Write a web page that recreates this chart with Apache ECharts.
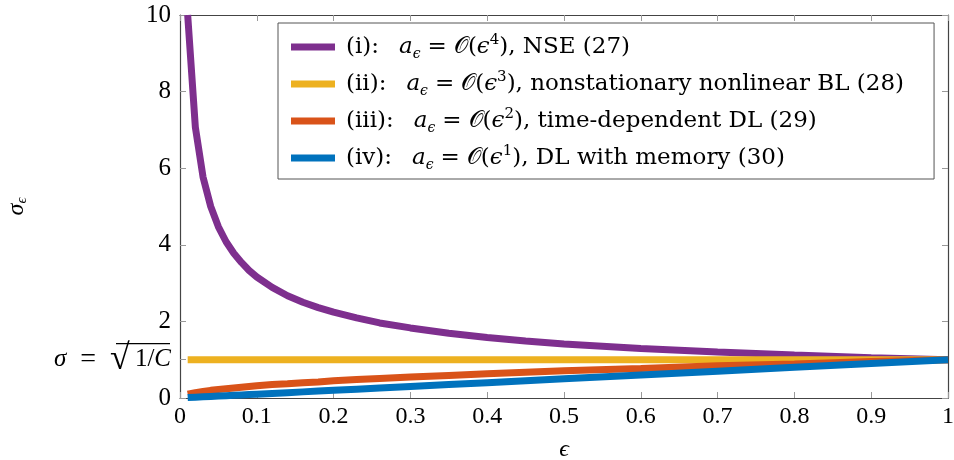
<!DOCTYPE html>
<html lang="en">
<head>
    <meta charset="utf-8">
    <title>sigma eps</title>
    <style>
        html, body { margin: 0; padding: 0; background: #fff; }
        #chart { width: 954px; height: 460px; }
    </style>
</head>
<body>
    <div id="chart"></div>
    <script src="https://cdn.jsdelivr.net/npm/echarts@6/dist/echarts.min.js"></script>
    <script>
        // values
        var eps = [0.01, 0.02, 0.03, 0.04, 0.05, 0.06, 0.07, 0.08, 0.09, 0.1, 0.12, 0.14, 0.16, 0.18, 0.2,
            0.23, 0.26, 0.3, 0.35, 0.4, 0.45, 0.5, 0.6, 0.7, 0.8, 0.9, 1.0];
        var sigmaNSE = [10, 7.07, 5.77, 5.0, 4.47, 4.08, 3.78, 3.54, 3.33, 3.16, 2.89, 2.67, 2.5, 2.36, 2.24,
            2.09, 1.96, 1.83, 1.69, 1.58, 1.49, 1.41, 1.29, 1.2, 1.12, 1.05, 1.0];
        var sigmaBL = [1, 1, 1, 1, 1, 1, 1, 1, 1, 1, 1, 1, 1, 1, 1, 1, 1, 1, 1, 1, 1, 1, 1, 1, 1, 1, 1];
        var sigmaTD = [0.1, 0.14, 0.17, 0.2, 0.22, 0.24, 0.26, 0.28, 0.3, 0.32, 0.35, 0.37, 0.4, 0.42, 0.45,
            0.48, 0.51, 0.55, 0.59, 0.63, 0.67, 0.71, 0.77, 0.84, 0.89, 0.95, 1.0];
        var sigmaMem = [0.01, 0.02, 0.03, 0.04, 0.05, 0.06, 0.07, 0.08, 0.09, 0.1, 0.12, 0.14, 0.16, 0.18, 0.2,
            0.23, 0.26, 0.3, 0.35, 0.4, 0.45, 0.5, 0.6, 0.7, 0.8, 0.9, 1.0];

        var seriesNames = ['i', 'ii', 'iii', 'iv'];
        var seriesColors = ['#7E2F8E', '#EDB120', '#D95319', '#0072BD'];
        var legendText = [
            '{f|(i):}{g|}{m|a}{s|ϵ}{e|=}{c|𝒪}{t|(}{m|ϵ}{p|4}{t|), NSE (27)}',
            '{f|(ii):}{g|}{m|a}{s|ϵ}{e|=}{c|𝒪}{t|(}{m|ϵ}{p|3}{t|), nonstationary nonlinear BL (28)}',
            '{f|(iii):}{g|}{m|a}{s|ϵ}{e|=}{c|𝒪}{t|(}{m|ϵ}{p|2}{t|), time-dependent DL (29)}',
            '{f|(iv):}{g|}{m|a}{s|ϵ}{e|=}{c|𝒪}{t|(}{m|ϵ}{p|1}{t|), DL with memory (30)}'
        ];
        var xTicks = [0, 0.1, 0.2, 0.3, 0.4, 0.5, 0.6, 0.7, 0.8, 0.9, 1];
        var yTicks = [0, 1, 2, 4, 6, 8, 10];

        var font = '"Liberation Serif", "DejaVu Serif", serif';
        var legFont = '"DejaVu Serif", "Liberation Serif", serif';
        var allY = [sigmaNSE, sigmaBL, sigmaTD, sigmaMem];

        var chart = echarts.init(document.getElementById('chart'));
        var tickStyle = { show: true, inside: true, length: 6, lineStyle: { color: '#999', width: 1 } };
        var axisLineStyle = { color: '#444', width: 1.2 };

        function legStyle(extra) {
            return Object.assign({ fontFamily: legFont, fontSize: 23, lineHeight: 28, color: '#000' }, extra);
        }

        var option = {
            backgroundColor: '#fff',
            animation: false,
            grid: { left: 180, right: 6, top: 15, bottom: 62, outerBoundsMode: 'none', containLabel: false },
            legend: {
                orient: 'vertical',
                left: 278,
                top: 23,
                padding: [10, 30, 7, 13],
                itemGap: 9,
                itemWidth: 44,
                itemHeight: 7,
                icon: 'rect',
                backgroundColor: '#fff',
                borderColor: '#555',
                borderWidth: 1,
                borderRadius: 0,
                data: seriesNames,
                formatter: function (name) {
                    return legendText[seriesNames.indexOf(name)];
                },
                textStyle: {
                    fontFamily: legFont,
                    fontSize: 23,
                    color: '#000',
                    rich: {
                        f: legStyle({ padding: [0, 0, 0, 6] }),
                        g: legStyle({ width: 20 }),
                        t: legStyle({}),
                        e: legStyle({ padding: [0, 7, 0, 7] }),
                        m: legStyle({ fontStyle: 'italic' }),
                        c: legStyle({ fontFamily: font }),
                        s: legStyle({ fontSize: 14, lineHeight: 14, fontStyle: 'italic', verticalAlign: 'bottom' }),
                        p: legStyle({ fontSize: 15, lineHeight: 15, verticalAlign: 'top' })
                    }
                }
            },
            xAxis: [{
                type: 'value',
                min: 0,
                max: 1,
                interval: 0.1,
                name: 'ϵ',
                nameLocation: 'middle',
                nameGap: 40,
                nameTextStyle: { fontFamily: font, fontSize: 24, fontStyle: 'italic', color: '#000' },
                axisLine: { onZero: false, lineStyle: axisLineStyle },
                axisTick: Object.assign({ customValues: xTicks }, tickStyle),
                splitLine: { show: false },
                axisLabel: {
                    customValues: xTicks,
                    fontFamily: font,
                    fontSize: 24,
                    color: '#000',
                    margin: 7,
                    formatter: function (v) { return String(Math.round(v * 10) / 10); }
                }
            }, {
                type: 'value',
                position: 'top',
                min: 0,
                max: 1,
                interval: 0.1,
                axisLine: { onZero: false, lineStyle: axisLineStyle },
                axisTick: Object.assign({ customValues: xTicks }, tickStyle),
                axisLabel: { show: false },
                splitLine: { show: false }
            }],
            yAxis: [{
                type: 'value',
                min: 0,
                max: 10,
                interval: 2,
                name: '{s|σ}{u|ϵ}',
                nameLocation: 'middle',
                nameRotate: 90,
                nameGap: 150,
                nameTextStyle: {
                    rich: {
                        s: { fontFamily: font, fontSize: 24, fontStyle: 'italic', lineHeight: 26, color: '#000' },
                        u: { fontFamily: font, fontSize: 15, fontStyle: 'italic', lineHeight: 15, verticalAlign: 'bottom', color: '#000' }
                    }
                },
                axisLine: { show: true, onZero: false, lineStyle: axisLineStyle },
                axisTick: Object.assign({ customValues: yTicks }, tickStyle),
                splitLine: { show: false },
                axisLabel: {
                    customValues: yTicks,
                    margin: 9,
                    formatter: function (v) {
                        if (v === 1) return '{m|σ}{e|=}{r|√}{t|1/}{m|C}';
                        return '{t|' + v + '}';
                    },
                    rich: {
                        t: { fontFamily: font, fontSize: 25, color: '#000' },
                        e: { fontFamily: font, fontSize: 28, color: '#000', padding: [0, 14, 0, 14] },
                        m: { fontFamily: font, fontSize: 25, fontStyle: 'italic', color: '#000' },
                        r: { fontFamily: font, fontSize: 36, color: '#000', padding: [0, 5, 0, 0] }
                    }
                }
            }, {
                type: 'value',
                position: 'right',
                min: 0,
                max: 10,
                interval: 2,
                axisLine: { show: true, onZero: false, lineStyle: axisLineStyle },
                axisTick: tickStyle,
                axisLabel: { show: false },
                splitLine: { show: false }
            }],
            series: seriesNames.map(function (name, k) {
                return {
                    name: name,
                    type: 'line',
                    showSymbol: false,
                    symbol: 'none',
                    color: seriesColors[k],
                    lineStyle: { width: 7, color: seriesColors[k] },
                    data: eps.map(function (x, i) { return [x, allY[k][i]]; })
                };
            })
        };

        chart.setOption(option);

        // vinculum over 1/C in the sqrt label
        var p = chart.convertToPixel({ yAxisIndex: 0 }, 1);
        chart.setOption({
            graphic: [{
                type: 'line',
                shape: { x1: 116, y1: p - 16, x2: 170, y2: p - 16 },
                style: { stroke: '#000', lineWidth: 1.2 }
            }]
        });
    </script>
</body>
</html>
